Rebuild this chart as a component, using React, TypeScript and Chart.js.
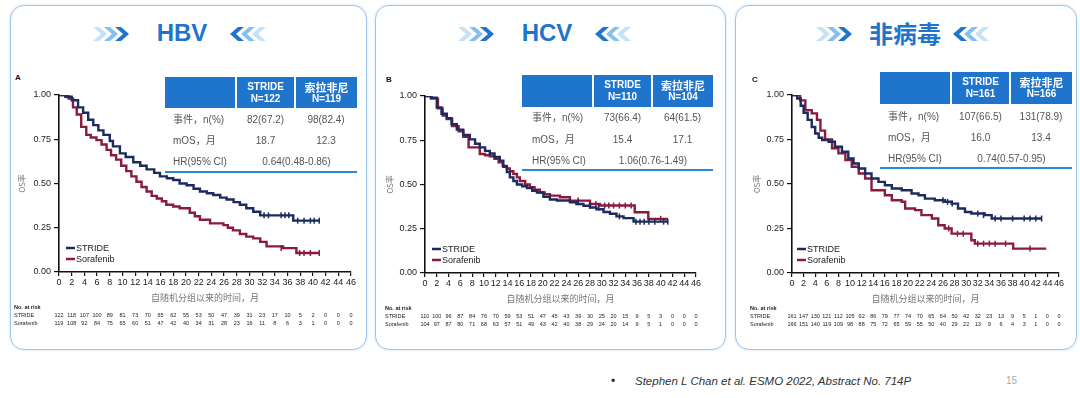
import React, { useEffect, useRef } from 'react';
import { Chart, registerables } from 'chart.js';

Chart.register(...registerables);

// ---------- shared tick labels ----------
const timeTicks = [0, 2, 4, 6, 8, 10, 12, 14, 16, 18, 20, 22, 24, 26, 28, 30, 32, 34, 36, 38, 40, 42, 44, 46];
const survTicks = [0, 0.25, 0.5, 0.75, 1];
const seriesNames = ['STRIDE', 'Sorafenib'];
const rowLabels = ['事件，n(%)', 'mOS，月', 'HR(95% CI)'];
const colHeads = ['STRIDE', '索拉非尼'];

// ---------- HBV ----------
const hbvStrideT = [0, 1.0, 2.0, 3.0, 3.8, 4.6, 5.4, 6.2, 7.0, 8.0, 8.5, 9.6, 10.5, 11.7, 12.8, 13.8, 15.0, 15.9, 17.0, 18.0, 19.0, 20.1, 21.2, 22.2, 23.3, 24.3, 25.4, 26.4, 27.5, 28.5, 29.5, 30.6, 31.7, 36.9, 41.1];
const hbvStrideS = [1, 0.99, 0.97, 0.93, 0.9, 0.86, 0.83, 0.8, 0.775, 0.74, 0.71, 0.67, 0.65, 0.62, 0.6, 0.58, 0.56, 0.54, 0.53, 0.52, 0.5, 0.49, 0.47, 0.455, 0.445, 0.435, 0.42, 0.41, 0.395, 0.38, 0.36, 0.34, 0.32, 0.29, 0.29];
const hbvSoraT = [0, 1.5, 2.2, 2.8, 3.5, 4.3, 5.0, 5.9, 6.7, 7.5, 8.2, 9.0, 9.8, 10.6, 11.4, 12.2, 13.0, 13.8, 14.6, 15.4, 16.2, 16.9, 18.0, 19.0, 20.6, 21.4, 22.2, 23.8, 25.9, 26.6, 27.4, 28.5, 29.5, 30.6, 31.7, 32.7, 35.3, 37.4, 41.1];
const hbvSoraS = [1, 0.98, 0.93, 0.89, 0.82, 0.775, 0.76, 0.745, 0.72, 0.69, 0.66, 0.635, 0.6, 0.57, 0.54, 0.51, 0.48, 0.455, 0.43, 0.415, 0.4, 0.38, 0.37, 0.36, 0.335, 0.315, 0.295, 0.275, 0.265, 0.25, 0.235, 0.215, 0.2, 0.19, 0.17, 0.145, 0.135, 0.107, 0.107];
const hbvStrideCensT = [32.3, 33.0, 35.0, 35.6, 36.2, 37.6, 38.6, 39.6, 40.2, 41.0];
const hbvStrideCensS = [0.32, 0.32, 0.32, 0.32, 0.32, 0.29, 0.29, 0.29, 0.29, 0.29];
const hbvSoraCensT = [35.0, 37.9, 38.6, 39.6, 41.0];
const hbvSoraCensS = [0.135, 0.107, 0.107, 0.107, 0.107];
const hbvStrideRisk = [122, 118, 107, 100, 89, 81, 73, 70, 65, 62, 55, 53, 50, 47, 39, 31, 23, 17, 10, 5, 2, 0, 0, 0];
const hbvSoraRisk = [119, 108, 92, 84, 75, 65, 60, 51, 47, 42, 40, 34, 31, 28, 23, 16, 11, 8, 6, 3, 1, 0, 0, 0];
const hbvN = ['N=122', 'N=119'];
const hbvEvents = ['82(67.2)', '98(82.4)'];
const hbvMOS = ['18.7', '12.3'];
const hbvHR = '0.64(0.48-0.86)';

// ---------- HCV ----------
const hcvStrideT = [0, 1.1, 2.0, 2.8, 3.7, 4.5, 5.4, 6.5, 7.6, 8.5, 9.3, 10.2, 11.0, 11.8, 12.7, 13.3, 13.9, 14.4, 15.0, 15.6, 16.5, 17.3, 18.2, 19.0, 20.1, 21.2, 22.4, 24.6, 25.7, 26.9, 28.0, 29.1, 30.3, 31.4, 32.5, 33.7, 35.4, 41.3];
const hcvStrideS = [1, 0.99, 0.935, 0.9, 0.875, 0.84, 0.81, 0.78, 0.755, 0.73, 0.71, 0.69, 0.675, 0.655, 0.635, 0.6, 0.57, 0.54, 0.52, 0.5, 0.49, 0.48, 0.465, 0.455, 0.43, 0.415, 0.41, 0.4, 0.39, 0.38, 0.37, 0.36, 0.345, 0.335, 0.32, 0.31, 0.29, 0.29];
const hcvSoraT = [0, 1.0, 2.2, 3.0, 3.7, 4.6, 5.7, 6.5, 7.4, 9.3, 10.2, 11.0, 11.8, 12.5, 13.2, 13.9, 14.4, 15.0, 15.6, 16.1, 17.0, 17.8, 18.6, 19.5, 20.3, 21.2, 22.9, 24.6, 28.0, 29.7, 35.6, 37.9, 41.0];
const hcvSoraS = [1, 0.985, 0.93, 0.89, 0.87, 0.83, 0.8, 0.77, 0.71, 0.672, 0.665, 0.66, 0.645, 0.625, 0.605, 0.59, 0.575, 0.56, 0.54, 0.52, 0.5, 0.485, 0.47, 0.455, 0.445, 0.437, 0.428, 0.409, 0.39, 0.381, 0.343, 0.306, 0.296];
const hcvStrideCensT = [26.0, 28.0, 29.5, 33.0, 35.8, 36.5, 37.2, 38.0, 39.0, 40.5, 41.2];
const hcvStrideCensS = [0.4, 0.38, 0.37, 0.32, 0.29, 0.29, 0.29, 0.29, 0.29, 0.29, 0.29];
const hcvSoraCensT = [26.0, 29.0, 30.5, 31.2, 32.0, 33.0, 34.0, 35.0, 40.0];
const hcvSoraCensS = [0.409, 0.39, 0.381, 0.381, 0.381, 0.381, 0.381, 0.381, 0.306];
const hcvStrideRisk = [110, 100, 96, 87, 84, 76, 70, 59, 53, 51, 47, 45, 43, 39, 30, 25, 20, 15, 9, 5, 3, 0, 0, 0];
const hcvSoraRisk = [104, 97, 87, 80, 71, 68, 63, 57, 51, 49, 43, 42, 40, 38, 29, 24, 20, 14, 9, 5, 1, 0, 0, 0];
const hcvN = ['N=110', 'N=104'];
const hcvEvents = ['73(66.4)', '64(61.5)'];
const hcvMOS = ['15.4', '17.1'];
const hcvHR = '1.06(0.76-1.49)';

// ---------- Non-viral ----------
const nvStrideT = [0, 0.9, 1.5, 2.0, 2.7, 3.4, 4.0, 4.6, 5.2, 6.3, 7.4, 8.6, 9.7, 10.6, 11.5, 12.6, 13.7, 14.9, 16.0, 17.2, 18.9, 20.6, 21.8, 22.9, 24.6, 26.3, 27.5, 28.6, 29.8, 30.9, 33.2, 34.4, 43.0];
const nvStrideS = [1, 0.98, 0.94, 0.9, 0.86, 0.82, 0.784, 0.76, 0.747, 0.737, 0.709, 0.681, 0.644, 0.615, 0.587, 0.559, 0.531, 0.512, 0.493, 0.475, 0.465, 0.447, 0.437, 0.418, 0.409, 0.4, 0.39, 0.362, 0.343, 0.334, 0.325, 0.306, 0.306];
const nvSoraT = [0, 1.4, 2.3, 3.4, 4.3, 4.9, 5.7, 6.9, 8.0, 9.2, 10.3, 11.5, 12.6, 13.7, 16.0, 17.2, 18.9, 19.5, 21.2, 22.3, 24.1, 25.2, 26.3, 27.5, 30.9, 31.5, 38.1, 43.8];
const nvSoraS = [1, 0.97, 0.915, 0.897, 0.86, 0.8, 0.75, 0.7, 0.672, 0.634, 0.597, 0.559, 0.531, 0.465, 0.437, 0.409, 0.4, 0.362, 0.353, 0.325, 0.306, 0.268, 0.25, 0.221, 0.184, 0.165, 0.137, 0.137];
const nvStrideCensT = [26.0, 26.8, 27.6, 32.0, 33.0, 35.0, 36.0, 38.0, 40.0, 41.0, 42.0, 43.0];
const nvStrideCensS = [0.409, 0.4, 0.39, 0.334, 0.325, 0.306, 0.306, 0.306, 0.306, 0.306, 0.306, 0.306];
const nvSoraCensT = [27.0, 28.5, 29.5, 32.0, 33.0, 34.0, 35.0, 36.8, 41.0];
const nvSoraCensS = [0.25, 0.221, 0.221, 0.165, 0.165, 0.165, 0.165, 0.165, 0.137];
const nvStrideRisk = [161, 147, 130, 121, 112, 105, 92, 86, 79, 77, 74, 70, 65, 64, 50, 42, 32, 23, 13, 9, 5, 1, 0, 0];
const nvSoraRisk = [166, 151, 140, 119, 109, 98, 88, 75, 72, 65, 59, 55, 50, 40, 29, 22, 13, 9, 6, 4, 3, 1, 0, 0];
const nvN = ['N=161', 'N=166'];
const nvEvents = ['107(66.5)', '131(78.9)'];
const nvMOS = ['16.0', '13.4'];
const nvHR = '0.74(0.57-0.95)';

// ---------- styles ----------
const NAVY = '#1c2b5e';
const MAROON = '#8a1a3e';
const BLUE = '#1f74cc';
const SANS = "'Liberation Sans', Arial, 'Noto Sans CJK SC', sans-serif";
const CJK = "'Noto Sans CJK SC', 'Liberation Sans', sans-serif";
const CANVAS_TOP = 80;
const CANVAS_H = 256;

const pts = (t: number[], s: number[]) => t.map((v, i) => ({ x: v, y: s[i] }));

const panels = [
  {
    key: 'hbv', title: 'HBV', letter: 'A',
    strideT: hbvStrideT, strideS: hbvStrideS, soraT: hbvSoraT, soraS: hbvSoraS,
    sCensT: hbvStrideCensT, sCensS: hbvStrideCensS, rCensT: hbvSoraCensT, rCensS: hbvSoraCensS,
    riskS: hbvStrideRisk, riskR: hbvSoraRisk, n: hbvN, events: hbvEvents, mos: hbvMOS, hr: hbvHR,
    geo: {
      panelLeft: 10, panelRight: 367, chartLeft: 59, chartRight: 351, chartTop: 95, chartBottom: 272,
      titleCx: 182, letterX: 15, letterY: 78, yTitleX: 12, legendDx: 7, riskLabelX: 4,
      tLeft: 165, tC1: 236, tC2: 295, tRight: 357, tTop: 77, tBottom: 108, rows: [120, 141, 162], line: 172, labelDx: 8,
    },
  },
  {
    key: 'hcv', title: 'HCV', letter: 'B',
    strideT: hcvStrideT, strideS: hcvStrideS, soraT: hcvSoraT, soraS: hcvSoraS,
    sCensT: hcvStrideCensT, sCensS: hcvStrideCensS, rCensT: hcvSoraCensT, rCensS: hcvSoraCensS,
    riskS: hcvStrideRisk, riskR: hcvSoraRisk, n: hcvN, events: hcvEvents, mos: hcvMOS, hr: hcvHR,
    geo: {
      panelLeft: 375, panelRight: 726, chartLeft: 425, chartRight: 696, chartTop: 96, chartBottom: 273,
      titleCx: 547, letterX: 386, letterY: 80, yTitleX: 15, legendDx: 7, riskLabelX: 10,
      tLeft: 522, tC1: 593, tC2: 652, tRight: 713, tTop: 75, tBottom: 107, rows: [118, 139.5, 161], line: 170, labelDx: 10,
    },
  },
  {
    key: 'nv', title: '非病毒', letter: 'C',
    strideT: nvStrideT, strideS: nvStrideS, soraT: nvSoraT, soraS: nvSoraS,
    sCensT: nvStrideCensT, sCensS: nvStrideCensS, rCensT: nvSoraCensT, rCensS: nvSoraCensS,
    riskS: nvStrideRisk, riskR: nvSoraRisk, n: nvN, events: nvEvents, mos: nvMOS, hr: nvHR,
    geo: {
      panelLeft: 735, panelRight: 1077, chartLeft: 792, chartRight: 1059, chartTop: 95, chartBottom: 273,
      titleCx: 905, letterX: 752, letterY: 80, yTitleX: 22, legendDx: 5, riskLabelX: 15,
      tLeft: 880, tC1: 951, tC2: 1010, tRight: 1072, tTop: 72, tBottom: 104, rows: [116.5, 137.5, 158.5], line: 168, labelDx: 8,
    },
  },
];

type PanelSpec = typeof panels[number];

function KMChart({ p }: { p: PanelSpec }) {
  const ref = useRef<HTMLCanvasElement | null>(null);
  const g = p.geo;
  const width = g.panelRight - g.panelLeft;

  useEffect(() => {
    if (!ref.current) return;
    const annot = {
      id: 'annot-' + p.key,
      afterDraw(chart: any) {
        const ctx = chart.ctx as CanvasRenderingContext2D;
        const { left, right, top, bottom } = chart.chartArea;
        const xs = chart.scales.x;
        ctx.save();
        // y title
        ctx.save();
        ctx.translate(g.yTitleX, (top + bottom) / 2);
        ctx.rotate(-Math.PI / 2);
        ctx.fillStyle = '#777';
        ctx.font = `8px ${CJK}`;
        ctx.textAlign = 'center';
        ctx.textBaseline = 'middle';
        ctx.fillText('OS率', 0, 0);
        ctx.restore();
        // x title
        ctx.fillStyle = '#777';
        ctx.font = `9px ${CJK}`;
        ctx.textAlign = 'center';
        ctx.textBaseline = 'middle';
        ctx.fillText('自随机分组以来的时间，月', (left + right) / 2, bottom + 26);
        // legend
        const cols = [NAVY, MAROON];
        seriesNames.forEach((name, i) => {
          const y = bottom - 24 + i * 11;
          ctx.strokeStyle = cols[i];
          ctx.lineWidth = 2.5;
          ctx.beginPath();
          ctx.moveTo(left + g.legendDx, y);
          ctx.lineTo(left + g.legendDx + 9, y);
          ctx.stroke();
          ctx.fillStyle = '#222';
          ctx.font = `9px ${SANS}`;
          ctx.textAlign = 'left';
          ctx.fillText(name, left + g.legendDx + 10, y + 0.5);
        });
        // number at risk
        ctx.fillStyle = '#222';
        ctx.font = `bold 5.5px ${SANS}`;
        ctx.textAlign = 'left';
        ctx.fillText('No. at risk', g.riskLabelX, bottom + 35);
        ctx.font = `5.5px ${SANS}`;
        ctx.fillText(seriesNames[0], g.riskLabelX, bottom + 43);
        ctx.fillText(seriesNames[1], g.riskLabelX, bottom + 51);
        ctx.textAlign = 'center';
        timeTicks.forEach((t, i) => {
          const x = xs.getPixelForValue(t);
          ctx.fillText(String(p.riskS[i]), x, bottom + 43);
          ctx.fillText(String(p.riskR[i]), x, bottom + 51);
        });
        ctx.restore();
      },
    };

    const chart = new Chart(ref.current, {
      type: 'scatter',
      data: {
        datasets: [
          { label: 'STRIDE censored', data: pts(p.sCensT, p.sCensS), showLine: false, pointStyle: 'line', rotation: 90, pointRadius: 3, borderColor: NAVY, backgroundColor: NAVY, borderWidth: 1.5 },
          { label: 'STRIDE', data: pts(p.strideT, p.strideS), showLine: true, stepped: 'before', borderColor: NAVY, backgroundColor: NAVY, borderWidth: 2.4, pointRadius: 0, fill: false },
          { label: 'Sorafenib censored', data: pts(p.rCensT, p.rCensS), showLine: false, pointStyle: 'line', rotation: 90, pointRadius: 3, borderColor: MAROON, backgroundColor: MAROON, borderWidth: 1.5 },
          { label: 'Sorafenib', data: pts(p.soraT, p.soraS), showLine: true, stepped: 'before', borderColor: MAROON, backgroundColor: MAROON, borderWidth: 2.4, pointRadius: 0, fill: false },
        ],
      } as any,
      options: {
        animation: false,
        responsive: false,
        devicePixelRatio: 1,
        events: [],
        layout: {
          padding: {
            left: 0,
            right: width - (g.chartRight - g.panelLeft),
            top: g.chartTop - CANVAS_TOP,
            bottom: CANVAS_TOP + CANVAS_H - g.chartBottom - 20,
          },
        },
        plugins: { legend: { display: false }, tooltip: { enabled: false }, title: { display: false } },
        scales: {
          x: {
            type: 'linear',
            min: 0,
            max: 46,
            afterBuildTicks: (s: any) => { s.ticks = timeTicks.map((v) => ({ value: v })); },
            afterFit: (s: any) => { s.height = 20; },
            ticks: { autoSkip: false, maxRotation: 0, minRotation: 0, padding: 1, color: '#222', font: { size: 9, family: SANS }, callback: (v: any) => String(v) },
            grid: { display: true, drawOnChartArea: false, drawTicks: true, tickLength: 4, color: '#111', lineWidth: 1.2 },
            border: { display: true, color: '#111', width: 1.6 },
          },
          y: {
            type: 'linear',
            min: 0,
            max: 1,
            afterBuildTicks: (s: any) => { s.ticks = survTicks.map((v) => ({ value: v })); },
            afterFit: (s: any) => { s.width = g.chartLeft - g.panelLeft; },
            ticks: { padding: 3, color: '#222', font: { size: 9, family: SANS }, callback: (v: any) => Number(v).toFixed(2) },
            grid: { display: true, drawOnChartArea: false, drawTicks: true, tickLength: 5, color: '#111', lineWidth: 1.2 },
            border: { display: true, color: '#111', width: 1.6 },
          },
        },
      } as any,
      plugins: [annot],
    });
    return () => chart.destroy();
  }, []);

  return (
    <canvas
      ref={ref}
      width={width}
      height={CANVAS_H}
      style={{ position: 'absolute', left: g.panelLeft, top: CANVAS_TOP, width, height: CANVAS_H }}
    />
  );
}

function Chevrons({ left, top, dir }: { left: number; top: number; dir: 'r' | 'l' }) {
  const cols = dir === 'r' ? ['#c6e2f6', '#86c1ee', '#1f74cc'] : ['#1f74cc', '#86c1ee', '#c6e2f6'];
  return (
    <svg style={{ position: 'absolute', left, top }} width={38} height={14}>
      {[0, 1, 2].map((i) => {
        const x = i * 11;
        const pp = dir === 'r'
          ? `${x},0 ${x + 6},0 ${x + 14},7 ${x + 6},14 ${x},14 ${x + 8},7`
          : `${x + 14},0 ${x + 8},0 ${x},7 ${x + 8},14 ${x + 14},14 ${x + 6},7`;
        return <polygon key={i} points={pp} fill={cols[i]} />;
      })}
    </svg>
  );
}

function Panel({ p }: { p: PanelSpec }) {
  const g = p.geo;
  const abs = (o: any) => ({ position: 'absolute' as const, ...o });
  const rowVals = [p.events, p.mos];
  return (
    <>
      <div style={abs({ left: g.panelLeft, top: 5, width: g.panelRight - g.panelLeft, height: 345, boxSizing: 'border-box', border: '1.6px solid #9fc6ea', borderRadius: 14, background: '#fff', boxShadow: '0 0 3px rgba(120,170,220,0.35)' })} />
      <Chevrons left={g.titleCx - 89} top={27} dir="r" />
      <Chevrons left={g.titleCx + 48} top={27} dir="l" />
      <div style={abs({ left: g.titleCx - 80, top: 19, width: 160, height: 28, lineHeight: '28px', textAlign: 'center', color: BLUE, fontWeight: 'bold', fontSize: 24, fontFamily: p.title === 'HBV' || p.title === 'HCV' ? SANS : CJK })}>{p.title}</div>
      <div style={abs({ left: g.letterX, top: g.letterY - 5, fontSize: 8, fontWeight: 'bold', fontFamily: SANS, lineHeight: '10px', color: '#111' })}>{p.letter}</div>
      <KMChart p={p} />
      {/* table header */}
      <div style={abs({ left: g.tLeft, top: g.tTop, width: g.tC1 - g.tLeft - 1, height: g.tBottom - g.tTop, background: BLUE })} />
      {[0, 1].map((i) => {
        const l = i === 0 ? g.tC1 + 1 : g.tC2 + 1;
        const r = i === 0 ? g.tC2 - 1 : g.tRight;
        return (
          <div key={i} style={abs({ left: l, top: g.tTop, width: r - l, height: g.tBottom - g.tTop, background: BLUE, color: '#fff', fontWeight: 'bold', textAlign: 'center', display: 'flex', flexDirection: 'column', justifyContent: 'center', fontFamily: i === 0 ? SANS : CJK })}>
            <div style={{ fontSize: i === 0 ? 10 : 11, lineHeight: '12px' }}>{colHeads[i]}</div>
            <div style={{ fontSize: 10, lineHeight: '12px', fontFamily: SANS }}>{p.n[i]}</div>
          </div>
        );
      })}
      {rowLabels.map((lab, r) => (
        <div key={'l' + r} style={abs({ left: g.tLeft + g.labelDx, top: g.rows[r] - 7, height: 14, lineHeight: '14px', fontSize: 10, color: '#555', fontFamily: SANS, whiteSpace: 'nowrap' })}>{lab}</div>
      ))}
      {rowVals.map((vals, r) => vals.map((v, c) => {
        const l = c === 0 ? g.tC1 : g.tC2;
        const rr = c === 0 ? g.tC2 : g.tRight;
        return (
          <div key={'v' + r + c} style={abs({ left: l, width: rr - l, top: g.rows[r] - 7, height: 14, lineHeight: '14px', textAlign: 'center', fontSize: 10, color: '#555', fontFamily: SANS })}>{v}</div>
        );
      }))}
      <div style={abs({ left: g.tC1, width: g.tRight - g.tC1, top: g.rows[2] - 7, height: 14, lineHeight: '14px', textAlign: 'center', fontSize: 10, color: '#555', fontFamily: SANS })}>{p.hr}</div>
      <div style={abs({ left: g.tLeft, width: g.tRight - g.tLeft, top: g.line - 1, height: 2, background: '#2a8ad8' })} />
    </>
  );
}

export default function App() {
  return (
    <div style={{ position: 'absolute', left: 0, top: 0, width: 1080, height: 398, overflow: 'hidden', background: '#fff' }}>
      {panels.map((p) => <Panel key={p.key} p={p} />)}
      <div style={{ position: 'absolute', left: 611, top: 374, fontSize: 12, color: '#333', fontFamily: SANS, lineHeight: '14px' }}>•</div>
      <div style={{ position: 'absolute', left: 635, top: 374, fontSize: 11.5, fontStyle: 'italic', color: '#333', fontFamily: SANS, lineHeight: '14px', whiteSpace: 'nowrap' }}>Stephen L Chan et al. ESMO 2022, Abstract No. 714P</div>
      <div style={{ position: 'absolute', left: 1006, top: 375, fontSize: 10, color: '#aaa', fontFamily: SANS, lineHeight: '12px' }}>15</div>
    </div>
  );
}
